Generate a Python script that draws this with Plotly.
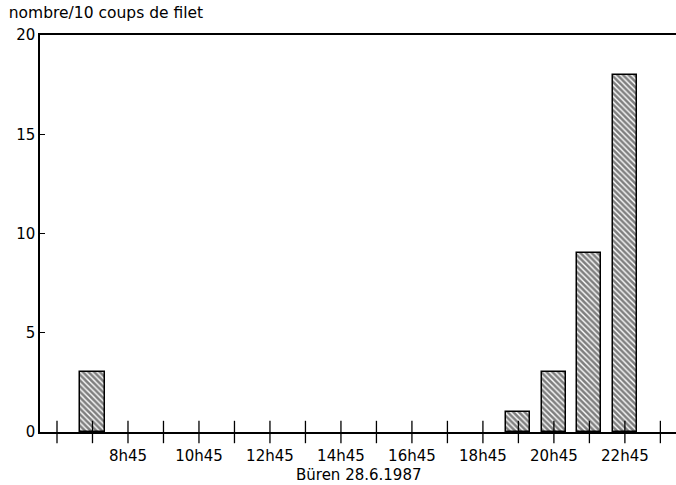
import plotly.graph_objects as go

# Data
bar_hours = [7.75, 19.75, 20.75, 21.75, 22.75]
bar_values = [3, 1, 3, 9, 18]
tick_hours = [6.75, 7.75, 8.75, 9.75, 10.75, 11.75, 12.75, 13.75, 14.75,
              15.75, 16.75, 17.75, 18.75, 19.75, 20.75, 21.75, 22.75, 23.75]
tick_labels = ["", "", "8h45", "", "10h45", "", "12h45", "", "14h45",
               "", "16h45", "", "18h45", "", "20h45", "", "22h45", ""]
y_ticks = [0, 5, 10, 15, 20]
title_text = "nombre/10 coups de filet"
x_title = "Büren 28.6.1987"

FONT = "DejaVu Sans"

fig = go.Figure()
fig.add_trace(go.Bar(
    x=bar_hours, y=bar_values, width=0.68,
    marker=dict(color="white",
                line=dict(color="black", width=1.5),
                pattern=dict(shape="\\", size=4, solidity=0.65,
                             fgcolor="black", bgcolor="white", fillmode="overlay")),
    showlegend=False, hoverinfo="skip"))

# crossing tick marks on the x axis
fig.add_trace(go.Scatter(
    x=tick_hours, y=[0] * len(tick_hours), mode="markers",
    marker=dict(symbol="line-ns", size=16, line=dict(color="black", width=1.3)),
    cliponaxis=False, showlegend=False, hoverinfo="skip"))

fig.update_layout(
    width=676, height=485,
    margin=dict(l=40, r=0, t=35, b=53, autoexpand=False),
    paper_bgcolor="white", plot_bgcolor="white",
    font=dict(family=FONT, size=15, color="black"),
    title=dict(text=title_text, xref="container", x=0.013, xanchor="left",
               y=1 - 13 / 485, yanchor="middle", font=dict(size=15.5, family=FONT)),
    bargap=0,
    annotations=[dict(text=x_title, xref="paper", yref="paper", x=0.5, y=-43 / 397,
                      xanchor="center", yanchor="middle", showarrow=False,
                      font=dict(size=15, family=FONT))],
)
fig.update_xaxes(
    range=[6.271, 24.19], showgrid=False, zeroline=False, automargin=False,
    showline=True, linecolor="black", linewidth=1.5, mirror=True,
    tickmode="array", tickvals=tick_hours, ticktext=tick_labels,
    ticks="outside", ticklen=9, tickcolor="rgba(0,0,0,0)",
    tickfont=dict(size=15),
)
fig.update_yaxes(
    range=[0, 20], showgrid=False, zeroline=False, automargin=False,
    showline=True, linecolor="black", linewidth=1.5,
    tickmode="array", tickvals=y_ticks,
    ticks="inside", ticklen=5, tickcolor="black", tickwidth=1.3,
    tickfont=dict(size=15),
)

fig.write_html("out.html", config={"displayModeBar": False},
               post_script="document.body.style.margin='0';document.body.style.overflow='hidden';")
